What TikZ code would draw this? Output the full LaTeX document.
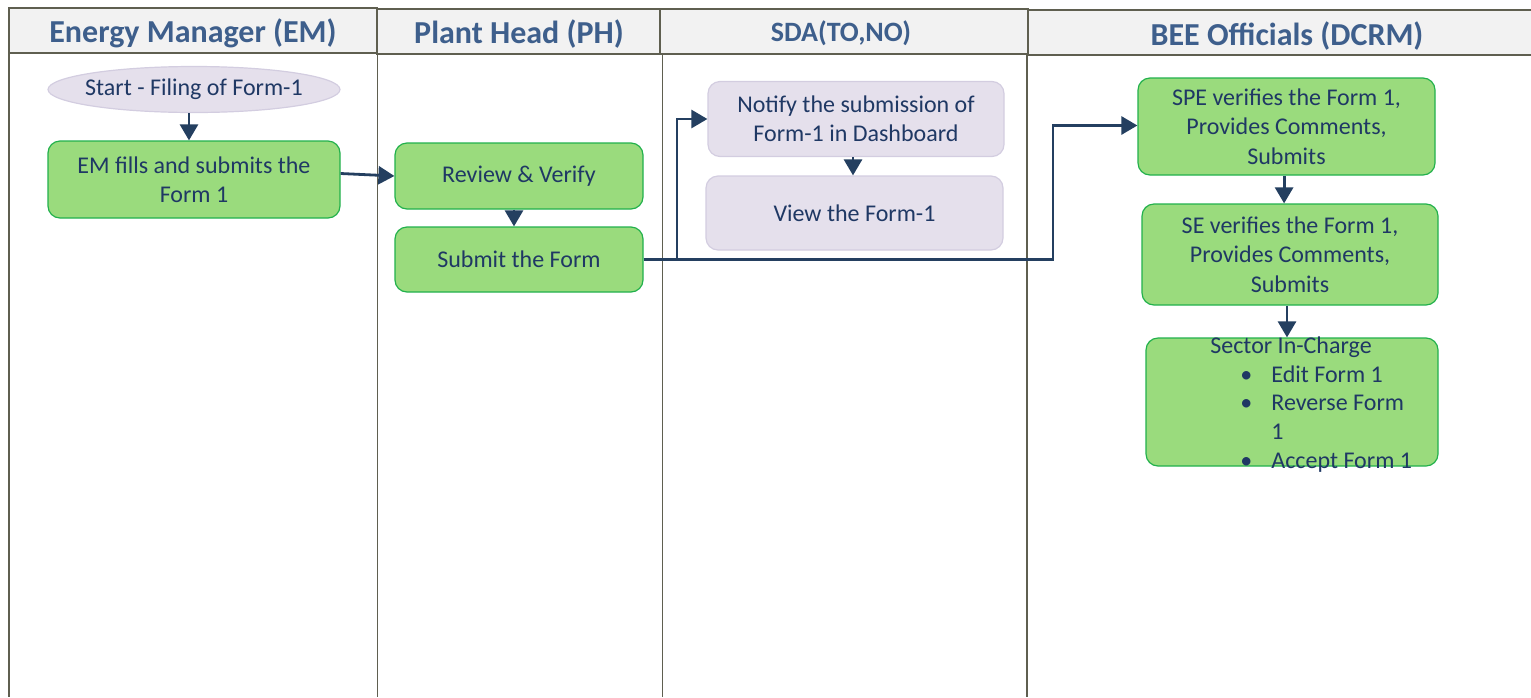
\documentclass[tikz,border=0pt]{standalone}
\usepackage{fontspec}
\setmainfont{Carlito}
\usetikzlibrary{shapes.geometric,arrows.meta}
\definecolor{gfill}{HTML}{9ADB7D}
\definecolor{gdraw}{HTML}{22B14C}
\definecolor{lfill}{HTML}{E5E0EC}
\definecolor{ldraw}{HTML}{D3CDE0}
\definecolor{txt}{HTML}{1F3864}
\definecolor{htxt}{HTML}{3E5F8C}
\definecolor{arrc}{HTML}{243F60}
\definecolor{lanec}{HTML}{5F5F50}
\definecolor{hfill}{HTML}{F2F2F2}
\tikzset{
  boxtext/.style={font=\fontsize{12}{14.7}\selectfont, text=txt, align=center},
  gbox/.style={boxtext, draw=gdraw, fill=gfill, rounded corners=6pt, line width=0.6pt, inner sep=0pt},
  lbox/.style={boxtext, draw=ldraw, fill=lfill, rounded corners=6pt, line width=0.6pt, inner sep=0pt},
  hdr/.style={draw=lanec, fill=hfill, line width=0.6pt},
  htext/.style={font=\fontsize{16}{19}\bfseries\selectfont, text=htxt},
  lane/.style={draw=lanec, line width=0.6pt},
  arr/.style={draw=arrc, line width=1.4pt, -{Triangle[width=9pt,length=8pt]}},
  plain/.style={boxtext, inner sep=0pt, anchor=mid west}
}
\begin{document}
\begin{tikzpicture}[x=0.5pt,y=-0.5pt]
\useasboundingbox (0,0) rectangle (1531,697);
\clip (0,0) rectangle (1531,697);
% headers
\draw[hdr] (9,8) rectangle (377,53);
\draw[hdr] (377,9) rectangle (660,54);
\draw[hdr] (660,9) rectangle (1028,54);
\draw[hdr] (1028,10) rectangle (1545,55);
\node[htext] (h1) at (193,33) {Energy Manager (EM)};
\node[htext] (h2) at (519,34) {Plant Head (PH)};
\node[htext, font=\fontsize{14}{17}\bfseries\selectfont] (h3) at (841,33) {SDA(TO,NO)};
\node[htext] (h4) at (1287,36) {BEE Officials (DCRM)};
% lane lines
\draw[lane] (9,53) -- (9,697);
\draw[lane] (377.5,54) -- (377.5,697);
\draw[lane] (662.5,54) -- (662.5,697);
\draw[lane] (1027,55) -- (1027,697);
% nodes
\node[ellipse, draw=ldraw, fill=lfill, boxtext, line width=0.6pt, minimum width=146pt, minimum height=23pt, inner xsep=-3pt, inner ysep=0pt] (start) at (194,89.5) {Start - Filing of Form-1};
\node[gbox, minimum width=146pt, minimum height=38.5pt] (em) at (194,179.5) {EM fills and submits the\\Form 1};
\node[gbox, minimum width=124pt, minimum height=33pt] (rev) at (519,176) {Review \& Verify};
\node[gbox, minimum width=124pt, minimum height=32.5pt] (sub) at (519,259.5) {Submit the Form};
\node[lbox, minimum width=148pt, minimum height=37.5pt] (notify) at (856,119) {Notify the submission of\\Form-1 in Dashboard};
\node[lbox, minimum width=148.5pt, minimum height=37pt] (view) at (854.5,213) {View the Form-1};
\node[gbox, minimum width=148.5pt, minimum height=48.5pt] (spe) at (1286.5,126.5) {SPE verifies the Form 1,\\Provides Comments,\\Submits};
\node[gbox, minimum width=148pt, minimum height=50.5pt] (se) at (1290,254.5) {SE verifies the Form 1,\\Provides Comments,\\Submits};
\node[gbox, minimum width=146pt, minimum height=64pt] (sector) at (1292,402) {};
% sector text
\node[boxtext, inner sep=0pt] (sic) at (1291,347) {Sector In-Charge};
\node[plain] (b1) at (1240,378) {•};
\node[plain] (t1) at (1271,378) {Edit Form 1};
\node[plain] (b2) at (1240,406) {•};
\node[plain] (t2) at (1271,406) {Reverse Form};
\node[plain] (t2b) at (1271,435) {1};
\node[plain] (b3) at (1240,464) {•};
\node[plain] (t3) at (1271,464) {Accept Form 1};
% connectors
\draw[arr] ([xshift=-2.5pt]start.south) -- ([xshift=-2.5pt]em.north);
\draw[arr] ([yshift=3pt]em.east) -- (rev.west);
\draw[arr] ([xshift=-2.5pt]rev.south) -- ([xshift=-2.5pt]sub.north);
\coordinate (j1) at (677,259.5);
\coordinate (j2) at (1053,259.5);
\draw[arr] (sub.east) -- (j1) |- (notify.west);
\draw[arr] (sub.east) -- (j2) |- ([yshift=0.5pt]spe.west);
\draw[arr] ([xshift=-1.5pt]notify.south) -- ([xshift=-1.5pt]notify.south |- view.north);
\draw[arr] ([xshift=-1.2pt]spe.south) -- ([xshift=-1.2pt]spe.south |- se.north);
\draw[arr] ([xshift=-1.5pt]se.south) -- ([xshift=-1.5pt]se.south |- sector.north);
\end{tikzpicture}
\end{document}
